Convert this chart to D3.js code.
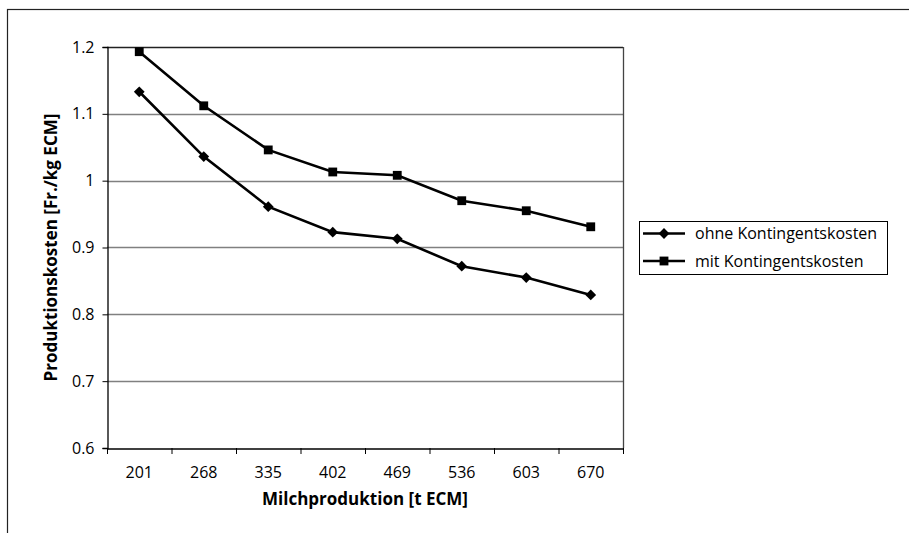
<!DOCTYPE html>
<html>
<head>
<meta charset="utf-8">
<script src="https://cdn.jsdelivr.net/npm/d3@7"></script>
<style>
  body { margin: 0; background: white; }
  svg text { font-family: "Open Sans", sans-serif; fill: #000; }
</style>
</head>
<body>
<div id="chart"></div>
<script>
// Daten
const categories = ["201", "268", "335", "402", "469", "536", "603", "670"];
const ohneKosten = [1.133, 1.036, 0.961, 0.923, 0.913, 0.872, 0.855, 0.829];
const mitKosten = [1.193, 1.112, 1.046, 1.013, 1.008, 0.970, 0.955, 0.931];
const yTicks = [0.6, 0.7, 0.8, 0.9, 1.0, 1.1, 1.2];
const seriesNames = ["ohne Kontingentskosten", "mit Kontingentskosten"];

const width = 909,
  height = 533;
const plot = { left: 107, right: 623, top: 47, bottom: 448 };

const svg = d3
  .select("#chart")
  .append("svg")
  .attr("width", width)
  .attr("height", height);

// Rahmen (nur oben und links sichtbar)
svg
  .append("rect")
  .attr("x", 7.5)
  .attr("y", 9.5)
  .attr("width", width + 20)
  .attr("height", height + 20)
  .attr("fill", "none")
  .attr("stroke", "#222")
  .attr("stroke-width", 1.2);

const x = d3
  .scaleBand()
  .domain(categories)
  .range([plot.left, plot.right]);
const y = d3.scaleLinear().domain([0.6, 1.2]).range([plot.bottom, plot.top]);
const cx = (c) => x(c) + x.bandwidth() / 2;

// Gitternetz
svg
  .append("g")
  .selectAll("line")
  .data(yTicks.slice(1))
  .enter()
  .append("line")
  .attr("x1", plot.left)
  .attr("x2", plot.right)
  .attr("y1", (d) => Math.round(y(d)) + 0.5)
  .attr("y2", (d) => Math.round(y(d)) + 0.5)
  .attr("stroke", (d) => (d === 1.2 ? "#222" : "#808080"))
  .attr("stroke-width", (d) => (d === 1.2 ? 1.5 : 1.3));

// rechter Rand der Zeichenfläche
svg
  .append("line")
  .attr("x1", plot.right + 0.5)
  .attr("x2", plot.right + 0.5)
  .attr("y1", plot.top)
  .attr("y2", plot.bottom)
  .attr("stroke", "#444")
  .attr("stroke-width", 1.3);

// Y-Achse
const yAxis = svg
  .append("g")
  .attr("transform", `translate(${plot.left + 0.5},0)`)
  .call(
    d3
      .axisLeft(y)
      .tickValues(yTicks)
      .tickFormat((d) => (d === 1 ? "1" : d3.format(".1f")(d)))
      .tickSize(5)
      .tickPadding(8)
  );
yAxis.select(".domain").attr("stroke", "#000").attr("stroke-width", 1.3);
yAxis.selectAll(".tick line").attr("stroke", "#000");
yAxis.selectAll("text").style("font-size", "16px");

// X-Achse
const xAxis = svg
  .append("g")
  .attr("transform", `translate(0,${plot.bottom + 0.5})`)
  .call(d3.axisBottom(x).tickSize(0).tickPadding(18));
xAxis.select(".domain").attr("stroke", "#000").attr("stroke-width", 1.6);
xAxis.selectAll("text").style("font-size", "16px");

// Teilstriche zwischen Kategorien
svg
  .append("g")
  .selectAll("line")
  .data(categories.concat(["end"]))
  .enter()
  .append("line")
  .attr("x1", (d, i) => plot.left + i * x.bandwidth() + 0.5)
  .attr("x2", (d, i) => plot.left + i * x.bandwidth() + 0.5)
  .attr("y1", plot.bottom)
  .attr("y2", plot.bottom + 6)
  .attr("stroke", "#000");

// Achsentitel
svg
  .append("text")
  .attr("x", (plot.left + plot.right) / 2)
  .attr("y", 505)
  .attr("text-anchor", "middle")
  .style("font-size", "17px")
  .style("font-weight", "bold")
  .text("Milchproduktion [t ECM]");

svg
  .append("text")
  .attr("transform", `translate(57,${(plot.top + plot.bottom) / 2}) rotate(-90)`)
  .attr("text-anchor", "middle")
  .style("font-size", "17px")
  .style("font-weight", "bold")
  .text("Produktionskosten [Fr./kg ECM]");

// Linien
const line = d3
  .line()
  .x((d, i) => cx(categories[i]))
  .y((d) => y(d));

const diamond = d3.symbol().type(d3.symbolSquare).size(58);
const square = d3.symbol().type(d3.symbolSquare).size(78);

const drawSeries = (values, shape, rotate) => {
  svg
    .append("path")
    .datum(values)
    .attr("d", line)
    .attr("fill", "none")
    .attr("stroke", "#000")
    .attr("stroke-width", 2.6);
  svg
    .append("g")
    .selectAll("path")
    .data(values)
    .enter()
    .append("path")
    .attr("d", shape)
    .attr(
      "transform",
      (d, i) => `translate(${cx(categories[i])},${y(d)}) rotate(${rotate})`
    )
    .attr("fill", "#000");
};

drawSeries(ohneKosten, diamond, 45);
drawSeries(mitKosten, square, 0);

// Legende
const legend = svg.append("g").attr("transform", "translate(639,221)");
legend
  .append("rect")
  .attr("x", 0.5)
  .attr("y", 0.5)
  .attr("width", 248)
  .attr("height", 53)
  .attr("fill", "white")
  .attr("stroke", "#000");

const legendRows = [
  { name: seriesNames[0], shape: diamond, rotate: 45 },
  { name: seriesNames[1], shape: square, rotate: 0 },
];
const rows = legend
  .selectAll("g.row")
  .data(legendRows)
  .enter()
  .append("g")
  .attr("class", "row")
  .attr("transform", (d, i) => `translate(0,${12.5 + i * 27.5})`);
rows
  .append("line")
  .attr("x1", 4)
  .attr("x2", 46)
  .attr("stroke", "#000")
  .attr("stroke-width", 2.6);
rows
  .append("path")
  .attr("d", (d) => d.shape())
  .attr("transform", (d) => `translate(25,0) rotate(${d.rotate})`)
  .attr("fill", "#000");
rows
  .append("text")
  .attr("x", 56)
  .attr("dy", "0.35em")
  .style("font-size", "16px")
  .text((d) => d.name);
</script>
</body>
</html>
